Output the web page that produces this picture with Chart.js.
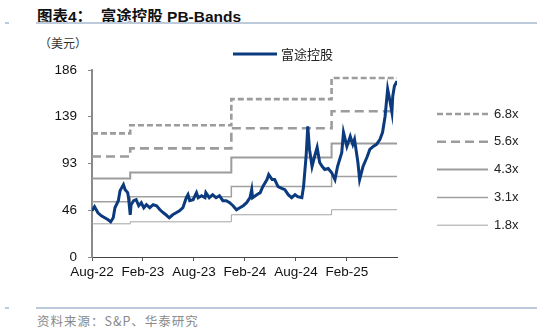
<!DOCTYPE html>
<html>
<head>
<meta charset="utf-8">
<script src="https://cdn.jsdelivr.net/npm/chart.js@4"></script>
<style>
  body { margin: 0; width: 537px; height: 331px; background: #fff; position: relative; overflow: hidden;
         font-family: "Liberation Sans", Arial, "Noto Sans CJK SC", sans-serif; }
  #title { position: absolute; left: 37px; top: 4px; font-size: 15.5px; font-weight: bold; white-space: pre; color: #111;
           font-family: "Liberation Sans", "Noto Sans CJK SC", sans-serif; }
  .rule { position: absolute; height: 2px; background: #bccadb; }
  #unit { position: absolute; left: 39px; top: 34px; font-size: 12px; color: #333; font-family: "Noto Sans CJK SC", sans-serif; }
  #source { position: absolute; left: 37px; top: 311px; font-size: 12.5px; color: #8a8a8a; letter-spacing: 1px;
            font-family: "Noto Sans CJK SC", "Liberation Sans", sans-serif; }
  #wrap { position: absolute; left: 0; top: 0; width: 537px; height: 331px; }
</style>
</head>
<body>
<div id="title">图表4：  富途控股 PB-Bands</div>
<div class="rule" style="left:5px;top:22px;width:4px"></div>
<div class="rule" style="left:36px;top:22px;width:501px"></div>
<div id="unit">（美元）</div>
<div class="rule" style="left:5px;top:307px;width:4px"></div>
<div class="rule" style="left:36px;top:307px;width:501px"></div>
<div id="source">资料来源：S&amp;P、华泰研究</div>
<div id="wrap"><canvas id="chart" width="537" height="331"></canvas></div>
<script>
// months since Aug-22, and share price (USD)
const months = [0.0, 0.3, 0.7, 1.1, 1.5, 1.9, 2.2, 2.5, 2.7, 3.1, 3.3, 3.5, 3.7, 3.9, 4.2, 4.3, 4.5, 4.6, 4.9, 5.2,
  5.5, 5.8, 6.1, 6.4, 6.8, 7.2, 7.6, 8.0, 8.4, 8.7, 9.1, 9.5, 9.9, 10.3, 10.7, 11.1, 11.3, 11.5, 11.9, 12.3,
  12.5, 12.9, 13.3, 13.4, 13.8, 14.2, 14.6, 15.0, 15.4, 15.8, 16.2, 16.6, 17.0, 17.4, 17.8, 18.2, 18.6, 18.8, 18.9, 19.4,
  19.8, 20.1, 20.6, 20.8, 21.2, 21.5, 21.9, 22.4, 22.7, 23.1, 23.5, 23.9, 24.2, 24.7, 24.9, 25.2, 25.4, 25.6, 25.9, 26.2,
  26.5, 26.8, 27.1, 27.4, 27.8, 28.2, 28.6, 28.9, 29.4, 29.6, 30.0, 30.4, 30.7, 30.9, 31.3, 31.5, 31.9, 32.4, 32.7, 33.1,
  33.5, 33.9, 34.2, 34.5, 34.8, 35.1, 35.3, 35.4, 35.6, 35.9];
const price = [46, 50, 44, 41, 39, 37, 35, 39, 49, 56, 66, 69, 72, 67, 64, 59, 42, 52, 56, 57,
  51, 54, 49, 52, 49, 52, 51, 47, 44, 42, 39, 42, 44, 46, 49, 59, 62, 56, 57, 64,
  59, 61, 59, 64, 59, 62, 59, 61, 56, 56, 54, 51, 47, 49, 51, 54, 59, 67, 59, 62,
  64, 70, 77, 82, 77, 77, 70, 68, 67, 62, 59, 62, 60, 59, 70, 100, 130, 107, 90, 100,
  109, 94, 90, 87, 88, 84, 77, 90, 104, 124, 110, 120, 112, 117, 94, 77, 90, 100, 107, 110,
  112, 117, 124, 140, 167, 154, 144, 160, 170, 175];

// PB band levels, each held until the next step date
const stepMonths = [0, 4.5, 16.4, 28.2, 35.9];
const pb68 = [123, 131, 157, 178, 178];
const pb56 = [100, 108, 128, 145, 145];
const pb43 = [78, 84, 99, 113, 113];
const pb31 = [55, 60, 70, 80, 80];
const pb18 = [33, 35, 42, 47, 47];

const xTicks = [0, 6, 12, 18, 24, 30];
const xLabels = ['Aug-22', 'Feb-23', 'Aug-23', 'Feb-24', 'Aug-24', 'Feb-25'];
const yTicks = [0, 46.5, 93, 139.5, 186];

function pts(xs, ys) {
  return xs.map((x, i) => ({ x: x, y: ys[i] }));
}

function band(label, ys, width, color, dash) {
  return {
    label: label,
    data: pts(stepMonths, ys),
    borderColor: color,
    borderWidth: width,
    borderDash: dash,
    stepped: true,
    pointRadius: 0,
  };
}

const legendPlugin = {
  id: 'pbLegend',
  afterDraw(chart) {
    const ctx = chart.ctx;
    const sets = chart.data.datasets;
    ctx.save();
    ctx.textBaseline = 'middle';
    // top legend: share price
    ctx.strokeStyle = sets[0].borderColor;
    ctx.lineWidth = 3;
    ctx.beginPath();
    ctx.moveTo(233, 54);
    ctx.lineTo(277, 54);
    ctx.stroke();
    ctx.fillStyle = '#222';
    ctx.font = '13px "Noto Sans CJK SC"';
    ctx.fillText(sets[0].label, 281, 54);
    // right legend: PB multiples
    ctx.font = '13px "Liberation Sans"';
    for (let i = 1; i < sets.length; i++) {
      const y = 114 + (i - 1) * 27.8;
      ctx.strokeStyle = sets[i].borderColor;
      ctx.lineWidth = sets[i].borderWidth;
      ctx.setLineDash(sets[i].borderDash || []);
      ctx.beginPath();
      ctx.moveTo(437, y);
      ctx.lineTo(488, y);
      ctx.stroke();
      ctx.setLineDash([]);
      ctx.fillStyle = '#222';
      ctx.fillText(sets[i].label, 494, y);
    }
    ctx.restore();
  }
};

new Chart(document.querySelector('#chart'), {
  type: 'line',
  data: {
    datasets: [
      {
        label: '富途控股',
        data: pts(months, price),
        borderColor: '#0b3a7e',
        borderWidth: 3,
        pointRadius: 0,
        tension: 0,
      },
      band('6.8x', pb68, 2.6, '#9c9c9c', [6, 3]),
      band('5.6x', pb56, 2.6, '#9c9c9c', [9, 5]),
      band('4.3x', pb43, 2, '#9c9c9c', []),
      band('3.1x', pb31, 1.5, '#a0a0a0', []),
      band('1.8x', pb18, 1, '#a4a4a4', []),
    ],
  },
  options: {
    responsive: false,
    animation: false,
    layout: { padding: { top: 70, right: 140, left: 0, bottom: 0 } },
    plugins: { legend: { display: false }, tooltip: { enabled: false } },
    scales: {
      x: {
        type: 'linear',
        min: 0,
        max: 35.9,
        afterBuildTicks: (s) => { s.ticks = xTicks.map((v) => ({ value: v })); },
        afterFit: (s) => { s.height = 74; },
        grid: { drawOnChartArea: false, tickLength: 4, color: '#555' },
        border: { color: '#444', width: 1 },
        ticks: {
          color: '#111',
          padding: 3,
          maxRotation: 0,
          font: { family: '"Liberation Sans"', size: 13.5 },
          callback: (v) => xLabels[xTicks.indexOf(v)],
        },
      },
      y: {
        min: 0,
        max: 186,
        afterBuildTicks: (s) => { s.ticks = yTicks.map((v) => ({ value: v })); },
        afterFit: (s) => { s.width = 92; },
        grid: { drawOnChartArea: false, tickLength: 4, color: '#888' },
        border: { color: '#8a8a8a', width: 2 },
        ticks: {
          color: '#111',
          padding: 11,
          font: { family: '"Liberation Sans"', size: 13.5 },
          callback: (v) => String(Math.floor(v)),
        },
      },
    },
  },
  plugins: [legendPlugin],
});
</script>
</body>
</html>
